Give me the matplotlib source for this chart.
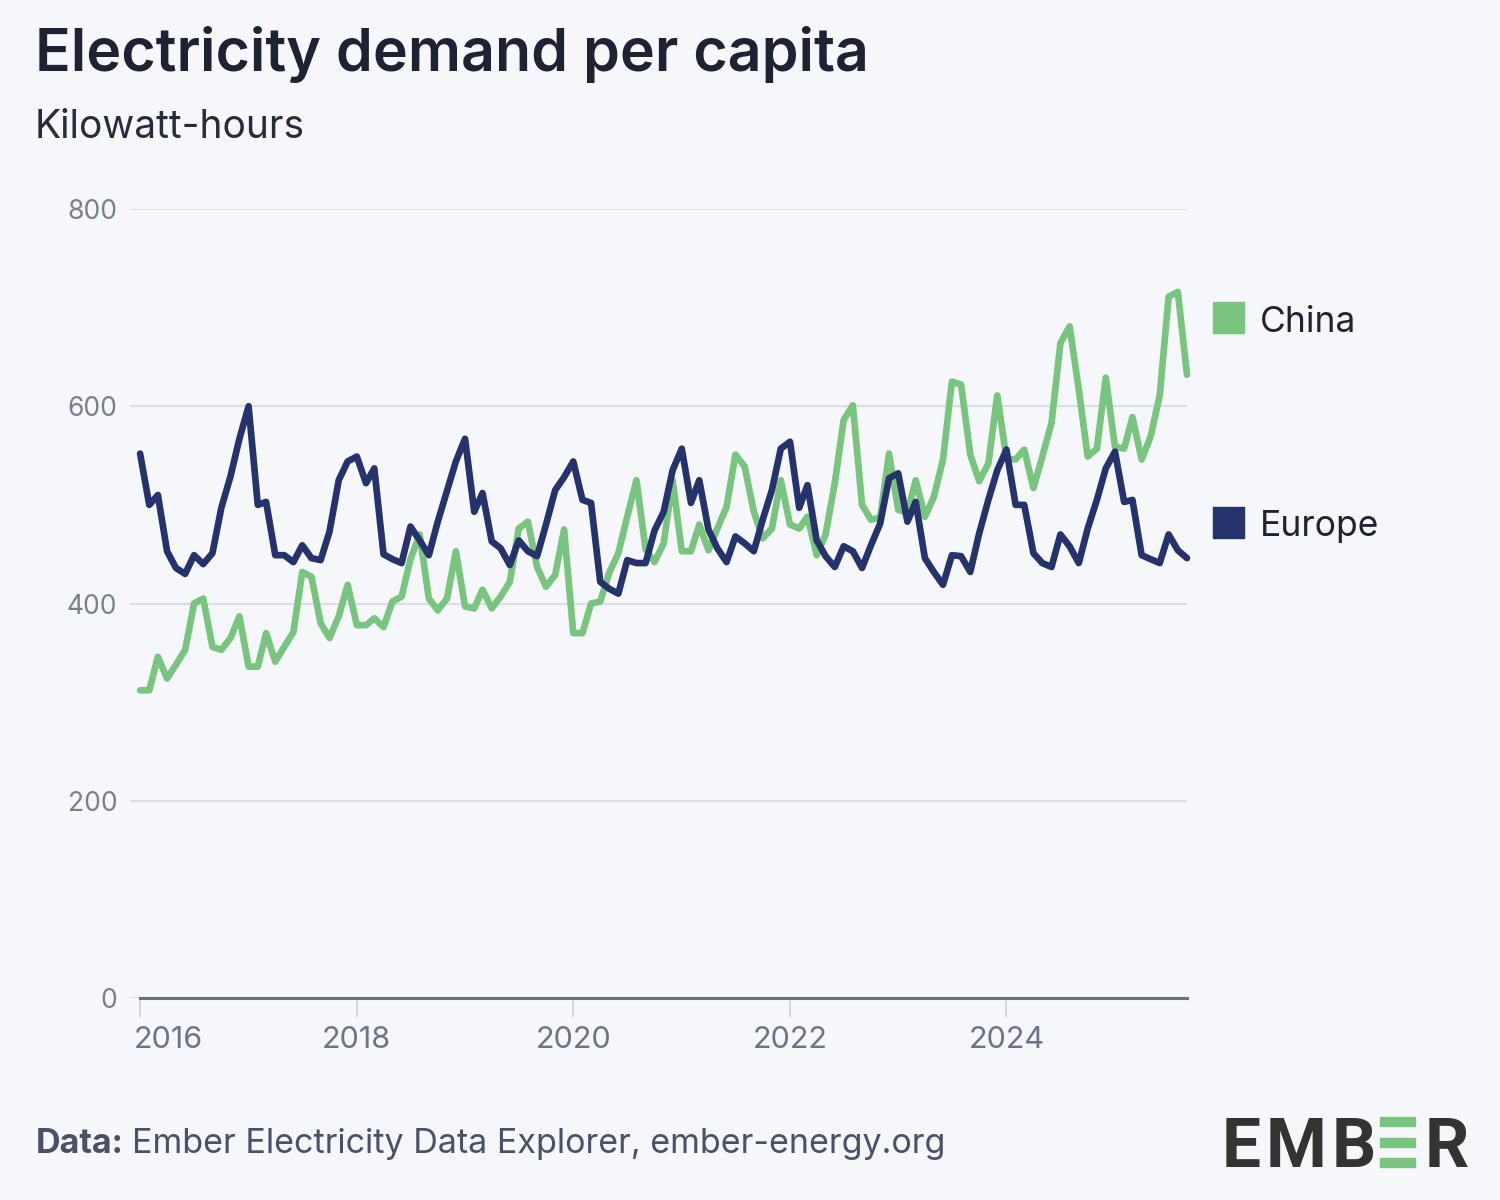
import numpy as np
import pandas as pd
import matplotlib
matplotlib.use('Agg')
import matplotlib.pyplot as plt
import matplotlib.dates as mdates
import matplotlib.transforms as mtransforms
from matplotlib.patches import Rectangle

plt.rcParams['font.family'] = ['Inter', 'DejaVu Sans']

# monthly values, Jan 2016 .. Sep 2025 (kWh per capita)
months = pd.date_range('2016-01-01', periods=117, freq='MS')

china = [312, 312, 346, 324, 338, 353, 400, 405, 356, 353, 365, 387,
         336, 336, 370, 341, 356, 371, 432, 427, 380, 365, 387, 419,
         378, 378, 385, 376, 402, 407, 445, 470, 405, 393, 405, 453,
         397, 395, 414, 395, 407, 422, 476, 483, 437, 417, 429, 475,
         370, 370, 400, 402, 431, 451, 488, 525, 455, 442, 461, 525,
         453, 453, 480, 454, 476, 498, 551, 539, 493, 466, 476, 525,
         480, 476, 488, 449, 470, 522, 586, 601, 500, 485, 487, 552,
         495, 492, 525, 488, 508, 546, 625, 622, 551, 524, 542, 611,
         547, 546, 556, 517, 549, 583, 664, 681, 617, 549, 557, 629,
         559, 557, 589, 546, 569, 611, 711, 716, 632]

europe = [552, 500, 510, 453, 436, 430, 449, 440, 451, 497, 529, 567,
          600, 500, 503, 449, 449, 442, 459, 446, 444, 473, 525, 544,
          549, 522, 537, 450, 445, 441, 478, 464, 449, 483, 514, 544,
          567, 493, 512, 463, 456, 439, 464, 453, 448, 480, 515, 528,
          544, 505, 502, 422, 415, 410, 444, 441, 441, 474, 493, 535,
          557, 502, 525, 475, 456, 442, 468, 461, 453, 485, 515, 557,
          564, 497, 520, 464, 448, 437, 458, 453, 436, 459, 481, 527,
          532, 483, 503, 446, 432, 419, 449, 448, 432, 471, 505, 535,
          556, 500, 500, 451, 441, 437, 470, 458, 441, 476, 505, 537,
          554, 503, 505, 449, 445, 441, 470, 454, 446]

series_names = ['China', 'Europe']
series_colors = ['#79c57f', '#26326b']
year_ticks = ['2016', '2018', '2020', '2022', '2024']
y_ticks = [0, 200, 400, 600, 800]

BG = '#f6f7fa'
W, H = 1500, 1200

fig = plt.figure(figsize=(15, 12), dpi=100, facecolor=BG)


def fx(x):
    return x / W


def fy(y):
    return 1 - y / H


ax = fig.add_axes([fx(130), fy(998), fx(1057), 789 / H])
ax.set_facecolor(BG)

ax.plot(months, china, color=series_colors[0], lw=4.8, solid_joinstyle='round',
        solid_capstyle='round', clip_on=False, zorder=3)
ax.plot(months, europe, color=series_colors[1], lw=4.8, solid_joinstyle='round',
        solid_capstyle='round', clip_on=False, zorder=4)

ax.set_xlim(months[0] - pd.Timedelta(days=34), months[-1])
ax.set_ylim(0, 800)

for s in ['top', 'right', 'left']:
    ax.spines[s].set_visible(False)
ax.spines['bottom'].set_color('#6b7083')
ax.spines['bottom'].set_linewidth(2.2)
ax.spines['bottom'].set_bounds(mdates.date2num(months[0]), mdates.date2num(months[-1]))
ax.spines['bottom'].set_zorder(5)

ax.set_yticks(y_ticks)
ax.set_yticklabels([str(v) for v in y_ticks])
ax.yaxis.grid(True, color='#dcdee6', lw=1.5)
ax.set_axisbelow(True)
ax.tick_params(axis='y', length=0, pad=9, labelsize=19, labelcolor='#7a7f90')

ax.set_xticks([pd.Timestamp(y + '-01-01') for y in year_ticks])
ax.set_xticklabels(year_ticks)
ax.tick_params(axis='x', length=13.5, width=1.3, color='#d0d3dc', pad=7,
               labelsize=22, labelcolor='#6e7386')
first = ax.get_xticklabels()[0]
first.set_horizontalalignment('left')
first.set_transform(first.get_transform() +
                    mtransforms.ScaledTranslation(-6 / 100, 0, fig.dpi_scale_trans))

# titles
fig.text(fx(35), fy(71), 'Electricity demand per capita', fontsize=42.5,
         fontweight='semibold', color='#1f2233', va='baseline')
fig.text(fx(35), fy(138), 'Kilowatt-hours', fontsize=28, color='#272b3a',
         va='baseline')

# legend on the right
legend_y = [(302, 332), (507, 536)]
for name, col, (top, base) in zip(series_names, series_colors, legend_y):
    fig.patches.append(Rectangle((fx(1213), fy(top + 31)), 31 / W, 31 / H,
                                 transform=fig.transFigure, color=col))
    fig.text(fx(1260), fy(base), name, fontsize=25.5, color='#1f2233', va='baseline')

# footer
t = fig.text(fx(36), fy(1153), 'Data:', fontsize=24.5, fontweight='bold',
             color='#4a5068', va='baseline')
r = fig.canvas.get_renderer()
bb = t.get_window_extent(renderer=r)
fig.text(bb.x1 / W + 8 / W, fy(1153), 'Ember Electricity Data Explorer, ember-energy.org',
         fontsize=24.5, color='#4a5068', va='baseline')

# logo
for letter, cx in zip(['E', 'M', 'B', 'R'], [1241, 1296, 1354, 1447]):
    fig.text(fx(cx), fy(1167), letter, fontsize=50, fontweight='bold',
             color='#333333', ha='center', va='baseline', family=['Roboto', 'DejaVu Sans'])
for top in [1117, 1138, 1158]:
    fig.patches.append(Rectangle((fx(1380), fy(top + 9)), 35 / W, 9 / H,
                                 transform=fig.transFigure, color='#79c57f'))

fig.savefig('out.png', dpi=100, facecolor=BG)
